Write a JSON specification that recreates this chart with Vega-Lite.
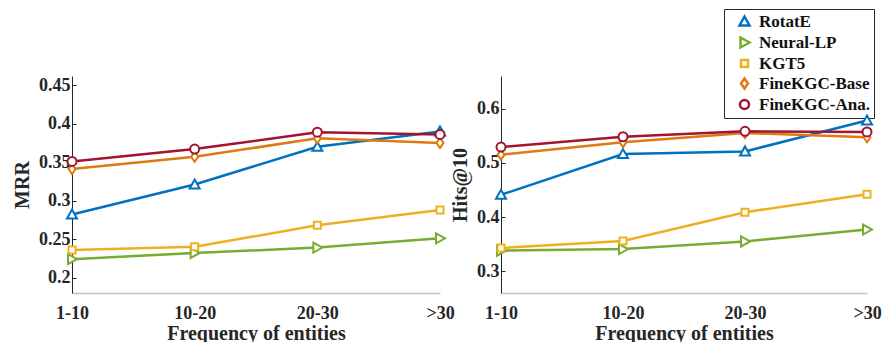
{
  "$schema": "https://vega.github.io/schema/vega-lite/v6.json",
  "background": "white",
  "padding": {"left": 12, "top": 8, "right": 0, "bottom": 0},
  "bounds": "flush",
  "spacing": 61,
  "resolve": {"scale": {"color": "independent", "shape": "independent"}, "legend": {"color": "independent", "shape": "independent"}},
  "config": {
    "font": "Liberation Serif",
    "view": {"stroke": null},
    "axis": {
      "grid": false,
      "labelFont": "Liberation Serif",
      "labelFontWeight": "bold",
      "labelFontSize": 18,
      "labelColor": "#262626",
      "titleFont": "Liberation Serif",
      "titleFontWeight": "bold",
      "titleFontSize": 20,
      "titleColor": "#262626"
    },
    "legend": {
      "labelFont": "Liberation Serif",
      "labelFontWeight": "bold",
      "labelFontSize": 17,
      "labelColor": "#111111",
      "padding": 4,
      "labelOffset": 6,
      "symbolSize": 100,
      "symbolOffset": 8,
      "symbolStrokeWidth": 2.5,
      "rowPadding": 1
    }
  },
  "datasets": {
    "d": [
      {"metric": "MRR", "freq": "1-10", "model": "RotatE", "value": 0.282},
      {"metric": "MRR", "freq": "10-20", "model": "RotatE", "value": 0.321},
      {"metric": "MRR", "freq": "20-30", "model": "RotatE", "value": 0.370},
      {"metric": "MRR", "freq": ">30", "model": "RotatE", "value": 0.390},
      {"metric": "MRR", "freq": "1-10", "model": "Neural-LP", "value": 0.224},
      {"metric": "MRR", "freq": "10-20", "model": "Neural-LP", "value": 0.232},
      {"metric": "MRR", "freq": "20-30", "model": "Neural-LP", "value": 0.239},
      {"metric": "MRR", "freq": ">30", "model": "Neural-LP", "value": 0.251},
      {"metric": "MRR", "freq": "1-10", "model": "KGT5", "value": 0.236},
      {"metric": "MRR", "freq": "10-20", "model": "KGT5", "value": 0.240},
      {"metric": "MRR", "freq": "20-30", "model": "KGT5", "value": 0.268},
      {"metric": "MRR", "freq": ">30", "model": "KGT5", "value": 0.288},
      {"metric": "MRR", "freq": "1-10", "model": "FineKGC-Base", "value": 0.341},
      {"metric": "MRR", "freq": "10-20", "model": "FineKGC-Base", "value": 0.357},
      {"metric": "MRR", "freq": "20-30", "model": "FineKGC-Base", "value": 0.381},
      {"metric": "MRR", "freq": ">30", "model": "FineKGC-Base", "value": 0.375},
      {"metric": "MRR", "freq": "1-10", "model": "FineKGC-Ana.", "value": 0.351},
      {"metric": "MRR", "freq": "10-20", "model": "FineKGC-Ana.", "value": 0.367},
      {"metric": "MRR", "freq": "20-30", "model": "FineKGC-Ana.", "value": 0.389},
      {"metric": "MRR", "freq": ">30", "model": "FineKGC-Ana.", "value": 0.386},
      {"metric": "Hits@10", "freq": "1-10", "model": "RotatE", "value": 0.441},
      {"metric": "Hits@10", "freq": "10-20", "model": "RotatE", "value": 0.516},
      {"metric": "Hits@10", "freq": "20-30", "model": "RotatE", "value": 0.521},
      {"metric": "Hits@10", "freq": ">30", "model": "RotatE", "value": 0.578},
      {"metric": "Hits@10", "freq": "1-10", "model": "Neural-LP", "value": 0.338},
      {"metric": "Hits@10", "freq": "10-20", "model": "Neural-LP", "value": 0.341},
      {"metric": "Hits@10", "freq": "20-30", "model": "Neural-LP", "value": 0.355},
      {"metric": "Hits@10", "freq": ">30", "model": "Neural-LP", "value": 0.377},
      {"metric": "Hits@10", "freq": "1-10", "model": "KGT5", "value": 0.343},
      {"metric": "Hits@10", "freq": "10-20", "model": "KGT5", "value": 0.356},
      {"metric": "Hits@10", "freq": "20-30", "model": "KGT5", "value": 0.409},
      {"metric": "Hits@10", "freq": ">30", "model": "KGT5", "value": 0.442},
      {"metric": "Hits@10", "freq": "1-10", "model": "FineKGC-Base", "value": 0.515},
      {"metric": "Hits@10", "freq": "10-20", "model": "FineKGC-Base", "value": 0.538},
      {"metric": "Hits@10", "freq": "20-30", "model": "FineKGC-Base", "value": 0.555},
      {"metric": "Hits@10", "freq": ">30", "model": "FineKGC-Base", "value": 0.547},
      {"metric": "Hits@10", "freq": "1-10", "model": "FineKGC-Ana.", "value": 0.529},
      {"metric": "Hits@10", "freq": "10-20", "model": "FineKGC-Ana.", "value": 0.548},
      {"metric": "Hits@10", "freq": "20-30", "model": "FineKGC-Ana.", "value": 0.558},
      {"metric": "Hits@10", "freq": ">30", "model": "FineKGC-Ana.", "value": 0.557}
    ]
  },
  "hconcat": [
    {
      "width": 368,
      "height": 217,
      "data": {"name": "d"},
      "transform": [{"filter": "datum.metric === 'MRR'"}],
      "encoding": {
        "x": {
          "field": "freq", "type": "ordinal",
          "scale": {"type": "point", "padding": 0, "domain": ["1-10", "10-20", "20-30", ">30"]},
          "axis": {"title": "Frequency of entities", "labelAngle": 0, "ticks": false, "domainColor": "#c4c4c4", "domainWidth": 1.5, "labelPadding": 11, "titlePadding": 1}
        },
        "y": {
          "field": "value", "type": "quantitative",
          "scale": {"domain": [0.18, 0.462], "nice": false, "zero": false},
          "axis": {"title": "MRR", "values": [0.2, 0.25, 0.3, 0.35, 0.4, 0.45], "format": ".2~f", "domainColor": "#262626", "tickColor": "#262626", "tickSize": -4, "labelPadding": 6, "titlePadding": 6}
        }
      },
      "layer": [
        {
          "mark": {"type": "line", "strokeWidth": 2.5},
          "encoding": {
            "color": {
              "field": "model", "type": "nominal",
              "scale": {"domain": ["RotatE", "Neural-LP", "KGT5", "FineKGC-Base", "FineKGC-Ana."], "range": ["#0072BD", "#77AC30", "#EDB120", "#DD7A12", "#A2142F"]},
              "legend": {
                "title": null,
                "orient": "none",
                "legendX": 652,
                "legendY": -67,
                "fillColor": "white",
                "strokeColor": "#262626",
                "symbolType": "M-3,0L2.9,0"
              }
            }
          }
        },
        {
          "mark": {"type": "point", "filled": false, "fill": "white", "fillOpacity": 1, "opacity": 1, "strokeWidth": 2, "size": 100},
          "encoding": {
            "color": {"field": "model", "type": "nominal", "legend": null},
            "shape": {
              "field": "model", "type": "nominal", "legend": null,
              "scale": {"domain": ["RotatE", "Neural-LP", "KGT5", "FineKGC-Base", "FineKGC-Ana."],
                "range": ["M0,-1L1,0.8L-1,0.8Z", "M-0.8,-1L1,0L-0.8,1Z", "M-0.7,-0.7L0.7,-0.7L0.7,0.7L-0.7,0.7Z", "M0,-1L0.7,0L0,1L-0.7,0Z", "M-0.9,0A0.9,0.9,0,1,0,0.9,0A0.9,0.9,0,1,0,-0.9,0Z"]}
            }
          }
        }
      ]
    },
    {
      "width": 366,
      "height": 217,
      "data": {"name": "d"},
      "transform": [{"filter": "datum.metric === 'Hits@10'"}],
      "encoding": {
        "x": {
          "field": "freq", "type": "ordinal",
          "scale": {"type": "point", "padding": 0, "domain": ["1-10", "10-20", "20-30", ">30"]},
          "axis": {"title": "Frequency of entities", "labelAngle": 0, "ticks": false, "domainColor": "#c4c4c4", "domainWidth": 1.5, "labelPadding": 11, "titlePadding": 1}
        },
        "y": {
          "field": "value", "type": "quantitative",
          "scale": {"domain": [0.26, 0.66], "nice": false, "zero": false},
          "axis": {"title": "Hits@10", "values": [0.3, 0.4, 0.5, 0.6], "format": ".1f", "domainColor": "#262626", "tickColor": "#262626", "tickSize": -4, "labelPadding": 6, "titlePadding": 6}
        }
      },
      "layer": [
        {
          "mark": {"type": "line", "strokeWidth": 2.5},
          "encoding": {
            "color": {
              "field": "model", "type": "nominal", "legend": null,
              "scale": {"domain": ["RotatE", "Neural-LP", "KGT5", "FineKGC-Base", "FineKGC-Ana."], "range": ["#0072BD", "#77AC30", "#EDB120", "#DD7A12", "#A2142F"]}
            }
          }
        },
        {
          "mark": {"type": "point", "filled": false, "fill": "white", "fillOpacity": 1, "opacity": 1, "strokeWidth": 2, "size": 100},
          "encoding": {
            "color": {
              "field": "model", "type": "nominal",
              "legend": {
                "title": null,
                "orient": "none",
                "legendX": 223,
                "legendY": -67,
                "fillColor": "transparent",
                "strokeColor": "transparent",
                "labelOpacity": 0,
                "symbolFillColor": "white"
              }
            },
            "shape": {
              "field": "model", "type": "nominal", "legend": null,
              "scale": {"domain": ["RotatE", "Neural-LP", "KGT5", "FineKGC-Base", "FineKGC-Ana."],
                "range": ["M0,-1L1,0.8L-1,0.8Z", "M-0.8,-1L1,0L-0.8,1Z", "M-0.7,-0.7L0.7,-0.7L0.7,0.7L-0.7,0.7Z", "M0,-1L0.7,0L0,1L-0.7,0Z", "M-0.9,0A0.9,0.9,0,1,0,0.9,0A0.9,0.9,0,1,0,-0.9,0Z"]}
            }
          }
        }
      ]
    }
  ]
}
